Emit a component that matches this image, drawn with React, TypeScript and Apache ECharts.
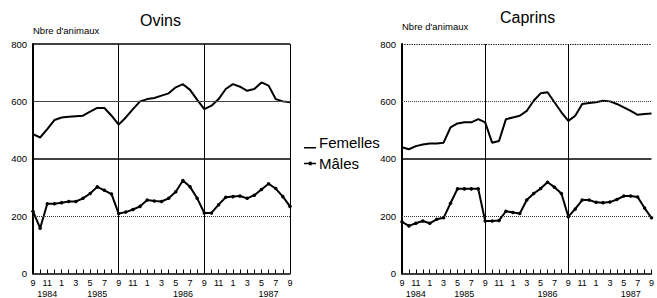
import React, { useEffect, useRef } from "react";
import * as echarts from "echarts";

// Months from September 1984 to September 1987
const months = [
  "9", "10", "11", "12", "1", "2", "3", "4", "5", "6", "7", "8",
  "9", "10", "11", "12", "1", "2", "3", "4", "5", "6", "7", "8",
  "9", "10", "11", "12", "1", "2", "3", "4", "5", "6", "7", "8",
  "9",
];
const yearLabels = ["1984", "1985", "1986", "1987"];
const yearLabelIndex = [2, 9, 21, 33];
const yearBoundaryIndex = [12, 24];

const ovinsFemelles = [
  486, 474, 503, 535, 544, 546, 548, 550, 564, 577, 577, 550,
  519, 544, 573, 600, 608, 612, 620, 628, 649, 660, 640, 605,
  573, 585, 608, 643, 660, 651, 637, 643, 666, 655, 608, 600,
  597,
];
const ovinsMales = [
  217, 158, 243, 243, 247, 251, 251, 262, 279, 302, 290, 277,
  209, 214, 223, 234, 256, 253, 251, 262, 285, 324, 302, 262,
  211, 211, 240, 266, 268, 270, 262, 273, 293, 313, 296, 268,
  234,
];
const caprinsFemelles = [
  440, 433, 444, 450, 453, 453, 456, 509, 523, 527, 527, 538,
  527, 456, 462, 538, 544, 550, 567, 602, 628, 632, 597, 562,
  532, 550, 591, 594, 597, 602, 600, 591, 579, 567, 553, 556,
  558,
];
const caprinsMales = [
  180, 166, 175, 183, 175, 189, 194, 245, 295, 295, 295, 295,
  183, 183, 185, 217, 213, 209, 256, 279, 296, 318, 301, 279,
  198, 225, 256, 256, 248, 247, 249, 258, 270, 270, 267, 228,
  194,
];
const yTicks = { min: 0, max: 800, interval: 200 };

const FONT = "'Liberation Sans', Arial, Helvetica, sans-serif";

const ICON_FEMELLES =
  "path://M0,0 L0.01,0 L0.01,0.01 Z M0,11.4 L12,11.4 L12,13 L0,13 Z M0,14 L0.01,14 L0.01,14.01 Z";
const ICON_MALES =
  "path://M0,0 L0.01,0 L0.01,0.01 Z M0,6.3 L12,6.3 L12,7.7 L0,7.7 Z M4.8,5.3 L7.8,5.3 L7.8,8.7 L4.8,8.7 Z M0,14 L0.01,14 L0.01,14.01 Z";

export default function App() {
  const ref = useRef<HTMLDivElement>(null);

  useEffect(() => {
    if (!ref.current) return;
    const chart = echarts.init(ref.current, undefined, { renderer: "svg" });

    const monthAxis = (gridIndex: number, splits: number[]) => ({
      gridIndex,
      type: "category",
      data: months,
      boundaryGap: false,
      axisLine: { show: true, lineStyle: { color: "#000", width: 1.5 } },
      axisTick: { show: true, inside: true, length: 4, interval: 0, lineStyle: { color: "#000", width: 1 } },
      axisLabel: { interval: 1, color: "#000", fontSize: 9, lineHeight: 8, margin: 5, fontFamily: FONT },
      splitLine: {
        show: true,
        interval: (i: number) => splits.indexOf(i) >= 0,
        lineStyle: { color: "#000", width: 1 },
      },
    });
    const yearAxis = (gridIndex: number) => ({
      gridIndex,
      type: "category",
      data: months,
      boundaryGap: false,
      position: "bottom",
      offset: 11,
      axisLine: { show: false },
      axisTick: { show: false },
      splitLine: { show: false },
      axisLabel: {
        interval: (i: number) => yearLabelIndex.indexOf(i) >= 0,
        color: "#000",
        fontSize: 9,
        lineHeight: 8,
        margin: 5,
        fontFamily: FONT,
        formatter: (_v: string, i: number) => {
          const k = yearLabelIndex.indexOf(i);
          return k >= 0 ? yearLabels[k] : "";
        },
      },
    });
    const valueAxis = (gridIndex: number, nameGap: number) => ({
      gridIndex,
      type: "value",
      min: yTicks.min,
      max: yTicks.max,
      interval: yTicks.interval,
      axisLine: { show: true, lineStyle: { color: "#000", width: 2 } },
      axisTick: { show: false },
      splitLine: { show: false },
      axisLabel: { color: "#000", fontSize: 9.5, margin: 6, fontFamily: FONT },
      name: "Nbre d'animaux",
      nameLocation: "end",
      nameGap,
      nameTextStyle: { align: "left", verticalAlign: "middle", fontSize: 9.5, color: "#000", fontFamily: FONT },
    });

    const gridLines = (dotted: boolean) => ({
      silent: true,
      symbol: ["none", "none"],
      label: { show: false },
      animation: false,
      data: [
        { yAxis: 800, lineStyle: { type: dotted ? "dotted" : "solid", width: dotted ? 1.2 : 1.5, color: "#000" } },
        { yAxis: 600, lineStyle: { type: dotted ? "dotted" : "solid", width: 1, color: "#444" } },
        { yAxis: 400, lineStyle: { type: "solid", width: 1.5, color: "#000" } },
        { yAxis: 200, lineStyle: { type: "dotted", width: 1, color: "#333" } },
      ],
    });

    const fem = (xi: number, yi: number, data: number[], dotted: boolean) => ({
      name: "Femelles",
      type: "line",
      xAxisIndex: xi,
      yAxisIndex: yi,
      data,
      symbol: "none",
      lineStyle: { color: "#000", width: 2 },
      itemStyle: { color: "#000" },
      markLine: gridLines(dotted),
    });
    const mal = (xi: number, yi: number, data: number[]) => ({
      name: "Mâles",
      type: "line",
      xAxisIndex: xi,
      yAxisIndex: yi,
      data,
      symbol: "circle",
      symbolSize: 3.5,
      lineStyle: { color: "#000", width: 2 },
      itemStyle: { color: "#000" },
    });

    chart.setOption({
      animation: false,
      backgroundColor: "#fff",
      textStyle: { fontFamily: FONT },
      title: [
        { text: "Ovins", left: 140, top: 12, padding: 0, textStyle: { fontSize: 16, fontWeight: "normal", color: "#000", fontFamily: FONT } },
        { text: "Caprins", left: 500, top: 9, padding: 0, textStyle: { fontSize: 16, fontWeight: "normal", color: "#000", fontFamily: FONT } },
      ],
      legend: {
        data: [
          { name: "Femelles", icon: ICON_FEMELLES },
          { name: "Mâles", icon: ICON_MALES },
        ],
        orient: "vertical",
        left: 304,
        top: 135,
        padding: 0,
        itemWidth: 12,
        itemHeight: 14,
        itemGap: 6,
        textStyle: { fontSize: 15, color: "#000", fontFamily: FONT, padding: [0, 0, 0, -2] },
      },
      grid: [
        { left: 33, top: 44, width: 257, height: 233 },
        { left: 402, top: 44, width: 257, height: 233 },
      ],
      xAxis: [
        monthAxis(0, [12, 24, 36]),
        yearAxis(0),
        monthAxis(1, yearBoundaryIndex),
        yearAxis(1),
      ],
      yAxis: [valueAxis(0, 14), valueAxis(1, 18)],
      series: [
        fem(0, 0, ovinsFemelles, false),
        mal(0, 0, ovinsMales),
        fem(2, 1, caprinsFemelles, true),
        mal(2, 1, caprinsMales),
      ],
    });

    return () => chart.dispose();
  }, []);

  return (
    <div
      ref={ref}
      style={{ position: "absolute", left: 0, top: 0, width: 657, height: 298, background: "#fff" }}
    />
  );
}
